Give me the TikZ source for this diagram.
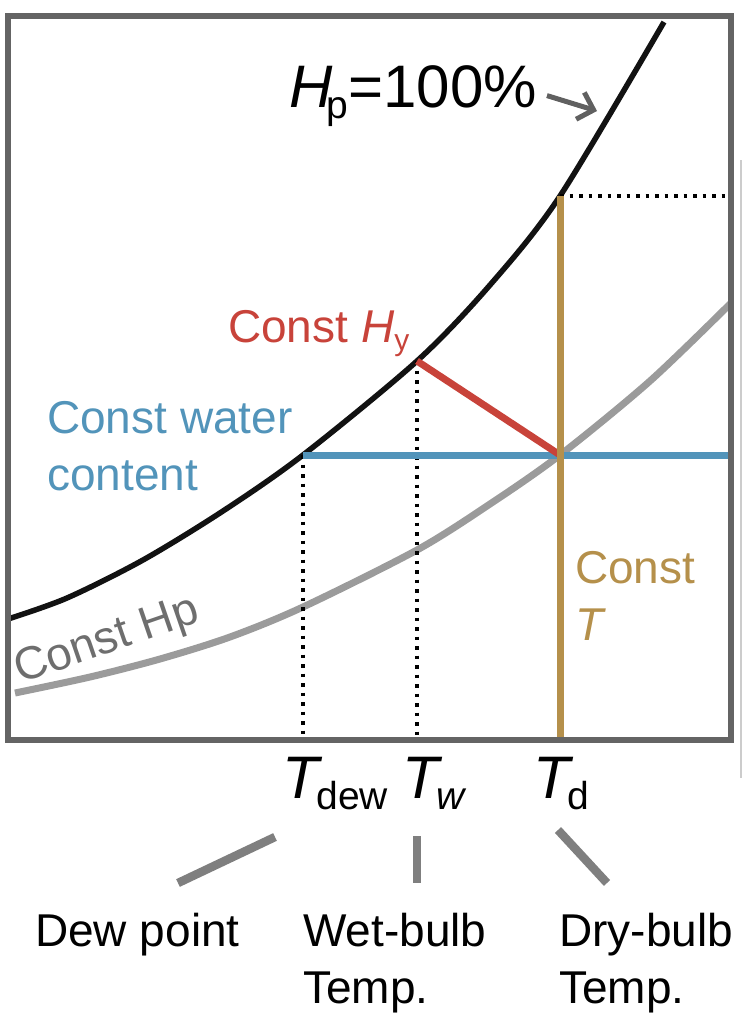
\documentclass[tikz,border=0pt]{standalone}
\usepackage{fontspec}
\setmainfont{Liberation Sans}
\usetikzlibrary{arrows.meta}

\definecolor{framegray}{HTML}{646464}
\definecolor{hpgray}{HTML}{9B9B9B}
\definecolor{hptext}{HTML}{6E6E6E}
\definecolor{waterblue}{HTML}{5294BA}
\definecolor{hyred}{HTML}{C8433A}
\definecolor{ttan}{HTML}{B5904B}
\definecolor{pointgray}{HTML}{7F7F7F}
\definecolor{arrowgray}{HTML}{606060}

\newcommand{\lblfont}{\fontsize{46}{57}\selectfont}
\newcommand{\bigfont}{\fontsize{60}{70}\selectfont}
\newcommand{\subtxt}[1]{\kern-6pt\raisebox{-11pt}{\fontsize{39}{39}\selectfont #1}}

\begin{document}
\begin{tikzpicture}[x=1pt,y=-1pt,
  lbl/.style={inner sep=0pt,anchor=base west,align=left,font=\lblfont},
  tlbl/.style={inner sep=0pt,anchor=base west,font=\bigfont},
  dots/.style={line width=3.5pt,dash pattern=on 3.5pt off 6pt},
  pointer/.style={pointgray,line width=8.5pt}]
\useasboundingbox (0,0) rectangle (742,1028);

\coordinate (base) at (0,740);
\coordinate (dew) at (303,455);
\coordinate (wet) at (417,361);
\coordinate (dry) at (560,455);
\coordinate (sat) at (560,196);
\coordinate (hparrow) at (597,111);

\draw[white!80!black,line width=1.5pt] (741,160) -- (741,778);

\draw[hpgray,line width=7pt] plot[smooth] coordinates {(15,693) (90,677) (160,659) (230,637) (303,607) (417,550) (490,504) (560,455) (650,381) (731,303)};
\draw[black!93,line width=5.5pt] plot[smooth] coordinates {(8,619) (67,598) (143,560) (223,511) (303,455) (417,361) (490,285) (560,196) (664,22)};

\draw[dots] (dew) -- (dew |- base);
\draw[dots] (wet) -- (wet |- base);
\draw[dots] (sat) -- (728,196);

\draw[waterblue,line width=7pt] (dew) -- (731,455);
\draw[hyred,line width=7pt] (wet) -- (dry);
\draw[ttan,line width=7pt] (sat) -- (sat |- base);

\draw[framegray,line width=6pt] (8,16) rectangle (731,740);

\node[tlbl] (hp) at (289,107) {\textit{H}\subtxt{p}=100\%};
\draw[arrowgray,line width=5pt,-{Straight Barb[length=14pt,width=28pt]}] ([xshift=10pt]hp.east) -- (hparrow);

\node[lbl,hyred] (hy) at (228,342) {Const \textit{H}\raisebox{-8pt}{\fontsize{30}{30}\selectfont y}};
\node[lbl,waterblue] (water) at (47,490) {Const water\\content};
\node[lbl,ttan] (constt) at (575,640) {Const\\\textit{T}};
\node[lbl,hptext,rotate=19] (consthp) at (20,684) {Const Hp};

\node[tlbl] (tdew) at (282,798) {\textit{T}\subtxt{dew}};
\node[tlbl] (tw) at (402,798) {\textit{T}\subtxt{\textit{w}}};
\node[tlbl] (td) at (533,798) {\textit{T}\subtxt{d}};

\coordinate (dewtop) at (275,837);
\coordinate (dewbot) at (178,883);
\coordinate (wettop) at (417,836);
\coordinate (wetbot) at (417,883);
\coordinate (drytop) at (558,830);
\coordinate (drybot) at (607,883);
\draw[pointer] (dewtop) -- (dewbot);
\draw[pointer] (wettop) -- (wetbot);
\draw[pointer] (drytop) -- (drybot);

\node[lbl] (dewpt) at (35,946) {Dew point};
\node[lbl] (wetbulb) at (303,1003) {Wet-bulb\\Temp.};
\node[lbl] (drybulb) at (559,1003) {Dry-bulb\\Temp.};
\end{tikzpicture}
\end{document}
